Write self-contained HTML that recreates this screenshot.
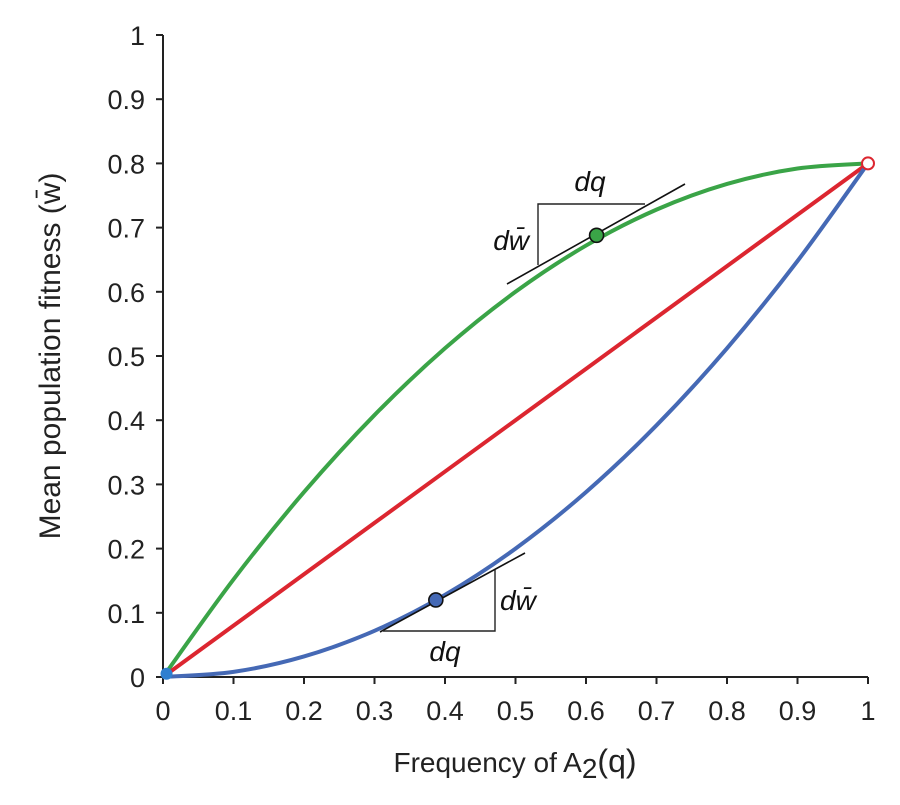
<!DOCTYPE html>
<html><head><meta charset="utf-8"><style>
body{margin:0;background:#fff}
svg{font-family:"Liberation Sans",sans-serif}
</style></head><body>
<svg id="chart" width="900" height="800">
<g id="axes"></g>
<g id="series"></g>
<g id="annot"></g>
<text x="515" y="772" font-size="28" text-anchor="middle" fill="#222">Frequency of A<tspan dy="6">2</tspan><tspan dy="-6" font-size="32">(q)</tspan></text>
<text transform="translate(60,356) rotate(-90)" font-size="30" text-anchor="middle" fill="#222">Mean population fitness (w̄)</text>
</svg>
<script>
const qValues=[0,0.1,0.2,0.3,0.4,0.5,0.6,0.7,0.8,0.9,1];
const greenW=[0,0.152,0.288,0.408,0.512,0.6,0.672,0.728,0.768,0.792,0.8];
const redW=[0,0.08,0.16,0.24,0.32,0.4,0.48,0.56,0.64,0.72,0.8];
const blueW=[0,0.008,0.032,0.072,0.128,0.2,0.288,0.392,0.512,0.648,0.8];
const xTicks=[0,0.1,0.2,0.3,0.4,0.5,0.6,0.7,0.8,0.9,1];
const xTickLabels=["0","0.1","0.2","0.3","0.4","0.5","0.6","0.7","0.8","0.9","1"];
const yTicks=[0,0.1,0.2,0.3,0.4,0.5,0.6,0.7,0.8,0.9,1];
const yTickLabels=["0","0.1","0.2","0.3","0.4","0.5","0.6","0.7","0.8","0.9","1"];
const greenPoint=[0.615,0.688];
const bluePoint=[0.387,0.12];
const NS="http://www.w3.org/2000/svg";
const X=v=>163+v*705, Y=v=>677-v*642;
function mk(tag,attrs,parent){const e=document.createElementNS(NS,tag);for(const k in attrs)e.setAttribute(k,attrs[k]);parent.appendChild(e);return e;}
const axes=document.getElementById('axes'),ser=document.getElementById('series'),an=document.getElementById('annot');
let l=mk('line',{x1:163,y1:677,x2:868,y2:677,stroke:'#222','stroke-width':2},axes);

l=mk('line',{x1:163,y1:677,x2:163,y2:35,stroke:'#222','stroke-width':2},axes);

xTicks.forEach((t,i)=>{const tk=mk('line',{x1:X(t),y1:677,x2:X(t),y2:684,stroke:'#222','stroke-width':2},axes);

const tx=mk('text',{x:X(t),y:720,'font-size':27,'text-anchor':'middle',fill:'#222'},axes);tx.textContent=xTickLabels[i];
});
yTicks.forEach((t,i)=>{const tk=mk('line',{x1:156,y1:Y(t),x2:163,y2:Y(t),stroke:'#222','stroke-width':2},axes);

const tx=mk('text',{x:145,y:Y(t)+10,'font-size':27,'text-anchor':'end',fill:'#222'},axes);tx.textContent=yTickLabels[i];
});
function curve(ys){const p=qValues.map((q,i)=>[X(q),Y(ys[i])]);let d='M'+p[0];
for(let i=0;i<p.length-1;i++){const p0=p[Math.max(i-1,0)],p1=p[i],p2=p[i+1],p3=p[Math.min(i+2,p.length-1)];
const c1=[p1[0]+(p2[0]-p0[0])/6,p1[1]+(p2[1]-p0[1])/6],c2=[p2[0]-(p3[0]-p1[0])/6,p2[1]-(p3[1]-p1[1])/6];
d+=' C'+c1+' '+c2+' '+p2;}return d;}
[['#3aa447',greenW,'green-curve'],['#dc2630',redW,'red-line'],['#4569b5',blueW,'blue-curve']].forEach(s=>{
const pa=mk('path',{d:curve(s[1]),fill:'none',stroke:s[0],'stroke-width':4},ser);
});
function line(x1,y1,x2,y2,w,name){const t=mk('line',{x1:x1,y1:y1,x2:x2,y2:y2,stroke:'#111','stroke-width':w},an);
}
// green annotation
line(507,284,685,184,1.6,'green-tangent');
const tri1=mk('polyline',{points:'538,265 538,204 645,204',fill:'none',stroke:'#222','stroke-width':1.4},an);

// blue annotation
line(380,632,525,553,1.6,'blue-tangent');
const tri2=mk('polyline',{points:'383,631 495,631 495,570',fill:'none',stroke:'#222','stroke-width':1.4},an);

[[greenPoint,'#3aa447','green-point'],[bluePoint,'#4569b5','blue-point']].forEach(p=>{
const c=mk('circle',{cx:X(p[0][0]),cy:Y(p[0][1]),r:7,fill:p[1],stroke:'#111','stroke-width':1.6},an);
});
[['dq',590,191,'middle','green-dq-label'],['dw̄',529,250,'end','green-dw-label'],
 ['dq',445,661,'middle','blue-dq-label'],['dw̄',500,610,'start','blue-dw-label']].forEach(a=>{
const tx=mk('text',{x:a[1],y:a[2],'font-size':28,'font-style':'italic','text-anchor':a[3],fill:'#111'},an);tx.textContent=a[0];
});
const ep=mk('circle',{cx:X(1),cy:Y(0.8),r:6,fill:'#fff',stroke:'#dc2630','stroke-width':2},an);

const op=mk('circle',{cx:X(0.005),cy:Y(0.005),r:6,fill:'#2f7fd0'},an);

</script>
</body></html>
